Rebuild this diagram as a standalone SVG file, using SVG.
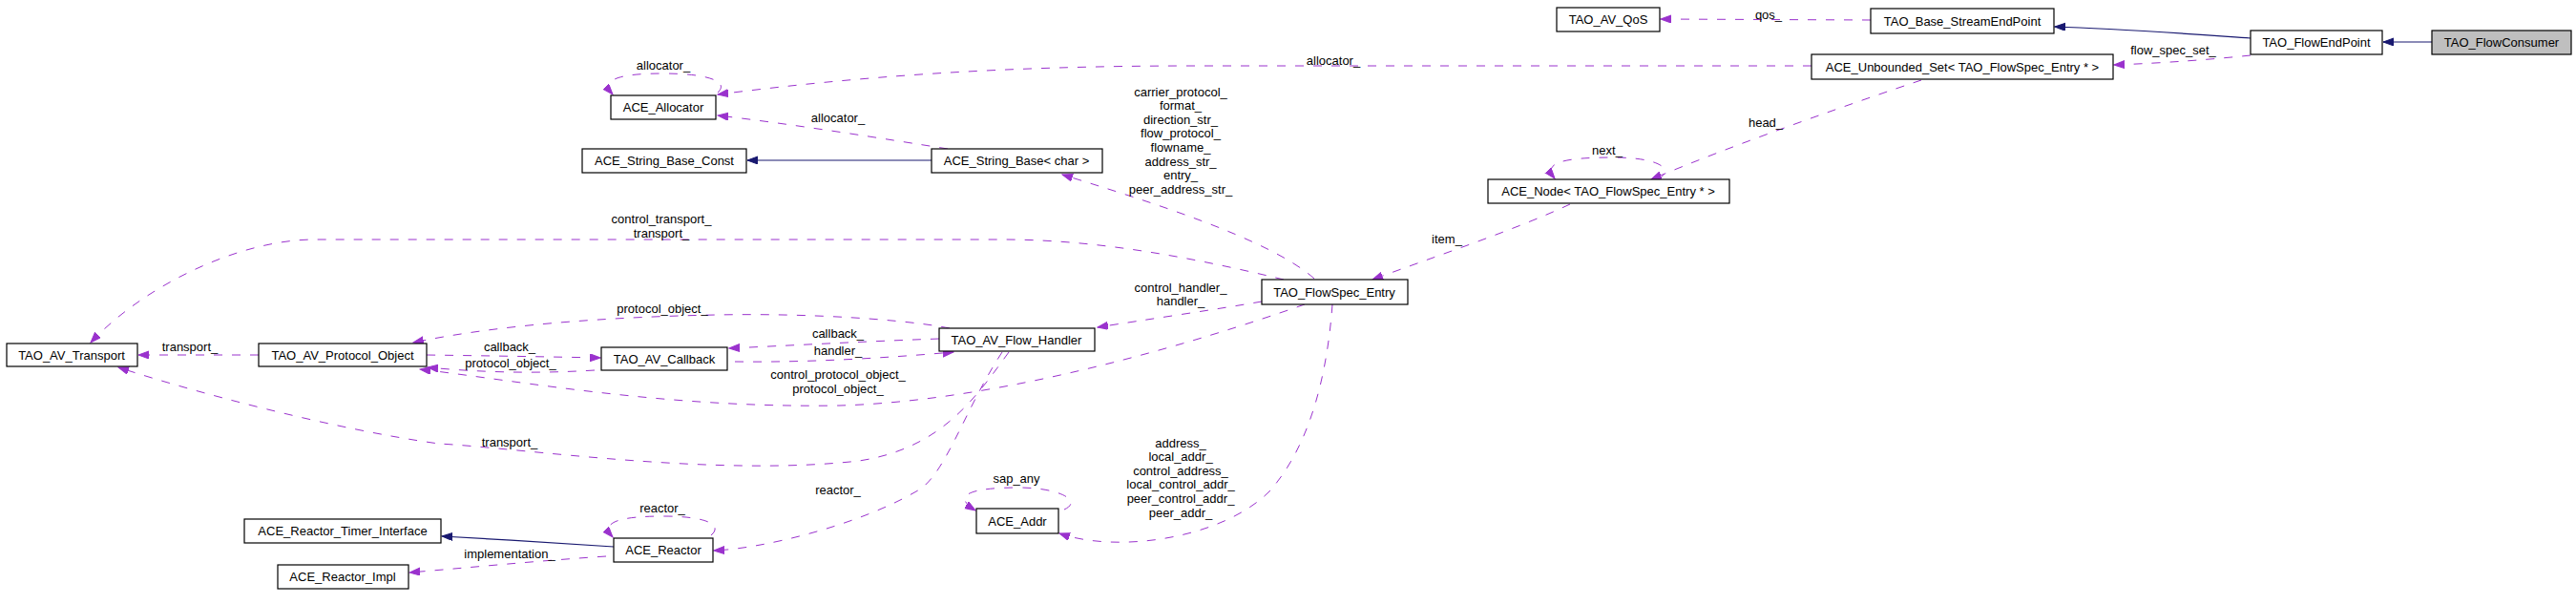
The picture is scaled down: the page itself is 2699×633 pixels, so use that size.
<svg xmlns="http://www.w3.org/2000/svg" width="2699" height="633" viewBox="0 0 2699 633">
<style>
.n rect{fill:#fff;stroke:#000;stroke-width:1.2}
.n text,.l{font-family:"Liberation Sans",Arial,sans-serif;font-size:13px;fill:#000;text-anchor:middle}
.u{fill:none;stroke:#9a32cd;stroke-width:1;stroke-dasharray:9,10;marker-end:url(#ap)}
.i{fill:none;stroke:#191970;stroke-width:1.2;marker-end:url(#ab)}
</style>
<defs>
<marker id="ap" markerUnits="userSpaceOnUse" markerWidth="12" markerHeight="9" refX="11" refY="4" orient="auto"><path d="M0,0 L11,4 L0,8 z" fill="#9a32cd" stroke="#9a32cd"/></marker>
<marker id="ab" markerUnits="userSpaceOnUse" markerWidth="12" markerHeight="9" refX="11" refY="4" orient="auto"><path d="M0,0 L11,4 L0,8 z" fill="#191970" stroke="#191970"/></marker>
</defs>
<rect width="2699" height="633" fill="#fff"/>
<g id="edges">
<path class="i" d="M2548,44 L2497,44"/>
<path class="i" d="M2358,40 C2300,36 2220,30 2153,28"/>
<path class="i" d="M976,168 L783,168"/>
<path class="i" d="M643,573 C600,570 520,565 463,562"/>
<path class="u" d="M1960,21 L1740,20"/>
<path class="u" d="M2358,58 C2320,62 2270,66 2215,68"/>
<path class="u" d="M1898,69 L1250,69 C1050,69 900,80 752,99"/>
<path class="u" d="M752,97 C765,85 740,77 695,77 C650,77 628,83 642,99"/>
<path class="u" d="M993,156 C930,146 830,130 752,121"/>
<path class="u" d="M1377,292 C1330,250 1200,210 1113,183"/>
<path class="u" d="M1345,293 C1250,270 1150,251 1050,251 L330,251 C250,251 150,300 95,359"/>
<path class="u" d="M2013,84 C1950,105 1820,150 1730,188"/>
<path class="u" d="M1737,188 C1755,178 1740,165 1690,165 C1640,165 1615,170 1629,187"/>
<path class="u" d="M1645,214 C1590,240 1500,270 1438,293"/>
<path class="u" d="M1322,316 C1270,325 1200,335 1150,343"/>
<path class="u" d="M995,344 C950,335 850,328 750,330 C600,333 500,345 433,359"/>
<path class="u" d="M271,372 L145,372"/>
<path class="u" d="M447,372 C520,373 580,374 629,375"/>
<path class="u" d="M623,388 C560,392 500,390 448,385"/>
<path class="u" d="M984,355 C900,358 830,362 764,365"/>
<path class="u" d="M770,379 C850,380 930,375 999,369"/>
<path class="u" d="M1367,319 C1250,360 1050,420 880,425 C700,428 550,400 440,387"/>
<path class="u" d="M1057,369 C1020,420 985,470 900,483 C750,500 550,470 460,465 C350,450 200,410 124,385"/>
<path class="u" d="M1050,369 C1010,430 990,500 960,515 C900,550 800,575 748,577"/>
<path class="u" d="M635,583 C560,588 490,595 429,600"/>
<path class="u" d="M745,561 C758,550 740,541 695,541 C650,541 628,547 642,563"/>
<path class="u" d="M1115,534 C1135,525 1110,511 1067,511 C1020,511 995,518 1022,535"/>
<path class="u" d="M1396,319 C1390,400 1370,470 1330,515 C1280,565 1170,580 1110,559"/>
</g>
<g id="labels">
<text class="l" x="1853" y="19.5">qos_</text>
<text class="l" x="2277" y="56.5">flow_spec_set_</text>
<text class="l" x="1397" y="67.5">allocator_</text>
<text class="l" x="695" y="72.5">allocator_</text>
<text class="l" x="878" y="127.5">allocator_</text>
<text class="l" x="1850" y="132.5">head_</text>
<text class="l" x="1684" y="161.5">next_</text>
<text class="l" x="1237" y="100.5">carrier_protocol_<tspan x="1237" dy="14.6">format_</tspan><tspan x="1237" dy="14.6">direction_str_</tspan><tspan x="1237" dy="14.6">flow_protocol_</tspan><tspan x="1237" dy="14.6">flowname_</tspan><tspan x="1237" dy="14.6">address_str_</tspan><tspan x="1237" dy="14.6">entry_</tspan><tspan x="1237" dy="14.6">peer_address_str_</tspan></text>
<text class="l" x="693" y="233.5">control_transport_<tspan x="693" dy="15">transport_</tspan></text>
<text class="l" x="1516" y="254.5">item_</text>
<text class="l" x="1237" y="305.5">control_handler_<tspan x="1237" dy="14.5">handler_</tspan></text>
<text class="l" x="694" y="327.5">protocol_object_</text>
<text class="l" x="878" y="353.5">callback_</text>
<text class="l" x="878" y="371.5">handler_</text>
<text class="l" x="534" y="367.5">callback_</text>
<text class="l" x="535" y="384.5">protocol_object_</text>
<text class="l" x="199" y="367.5">transport_</text>
<text class="l" x="878" y="396.5">control_protocol_object_<tspan x="878" dy="15">protocol_object_</tspan></text>
<text class="l" x="534" y="467.5">transport_</text>
<text class="l" x="1065" y="505.5">sap_any</text>
<text class="l" x="1237" y="468.5">address_<tspan x="1237" dy="14.6">local_addr_</tspan><tspan x="1237" dy="14.6">control_address_</tspan><tspan x="1237" dy="14.6">local_control_addr_</tspan><tspan x="1237" dy="14.6">peer_control_addr_</tspan><tspan x="1237" dy="14.6">peer_addr_</tspan></text>
<text class="l" x="878" y="517.5">reactor_</text>
<text class="l" x="694" y="536.5">reactor_</text>
<text class="l" x="534" y="584.5">implementation_</text>
</g>
<g id="TAO_FlowConsumer" class="n"><rect x="2548" y="32" width="146" height="25" style="fill:#bfbfbf"/><text x="2621" y="49">TAO_FlowConsumer</text></g>
<g id="TAO_FlowEndPoint" class="n"><rect x="2358" y="32" width="138" height="25"/><text x="2427" y="49">TAO_FlowEndPoint</text></g>
<g id="TAO_Base_StreamEndPoint" class="n"><rect x="1960" y="9" width="192" height="26"/><text x="2056" y="27">TAO_Base_StreamEndPoint</text></g>
<g id="TAO_AV_QoS" class="n"><rect x="1631" y="8" width="108" height="25"/><text x="1685" y="25">TAO_AV_QoS</text></g>
<g id="ACE_Unbounded_Set" class="n"><rect x="1898" y="57" width="316" height="26"/><text x="2056" y="75">ACE_Unbounded_Set&lt; TAO_FlowSpec_Entry * &gt;</text></g>
<g id="ACE_Allocator" class="n"><rect x="640" y="100" width="110" height="25"/><text x="695" y="117">ACE_Allocator</text></g>
<g id="ACE_String_Base_Const" class="n"><rect x="610" y="156" width="172" height="25"/><text x="696" y="173">ACE_String_Base_Const</text></g>
<g id="ACE_String_Base_char" class="n"><rect x="976" y="156" width="179" height="25"/><text x="1065" y="173">ACE_String_Base&lt; char &gt;</text></g>
<g id="ACE_Node" class="n"><rect x="1559" y="188" width="253" height="25"/><text x="1685" y="205">ACE_Node&lt; TAO_FlowSpec_Entry * &gt;</text></g>
<g id="TAO_FlowSpec_Entry" class="n"><rect x="1322" y="293" width="153" height="26"/><text x="1398" y="311">TAO_FlowSpec_Entry</text></g>
<g id="TAO_AV_Transport" class="n"><rect x="7" y="360" width="137" height="24"/><text x="75" y="377">TAO_AV_Transport</text></g>
<g id="TAO_AV_Protocol_Object" class="n"><rect x="271" y="360" width="176" height="24"/><text x="359" y="377">TAO_AV_Protocol_Object</text></g>
<g id="TAO_AV_Callback" class="n"><rect x="630" y="364" width="132" height="24"/><text x="696" y="381">TAO_AV_Callback</text></g>
<g id="TAO_AV_Flow_Handler" class="n"><rect x="984" y="344" width="163" height="24"/><text x="1065" y="361">TAO_AV_Flow_Handler</text></g>
<g id="ACE_Reactor_Timer_Interface" class="n"><rect x="256" y="544" width="206" height="25"/><text x="359" y="561">ACE_Reactor_Timer_Interface</text></g>
<g id="ACE_Reactor_Impl" class="n"><rect x="291" y="592" width="137" height="25"/><text x="359" y="609">ACE_Reactor_Impl</text></g>
<g id="ACE_Reactor" class="n"><rect x="643" y="564" width="104" height="25"/><text x="695" y="581">ACE_Reactor</text></g>
<g id="ACE_Addr" class="n"><rect x="1023" y="533" width="86" height="26"/><text x="1066" y="551">ACE_Addr</text></g>
</svg>
